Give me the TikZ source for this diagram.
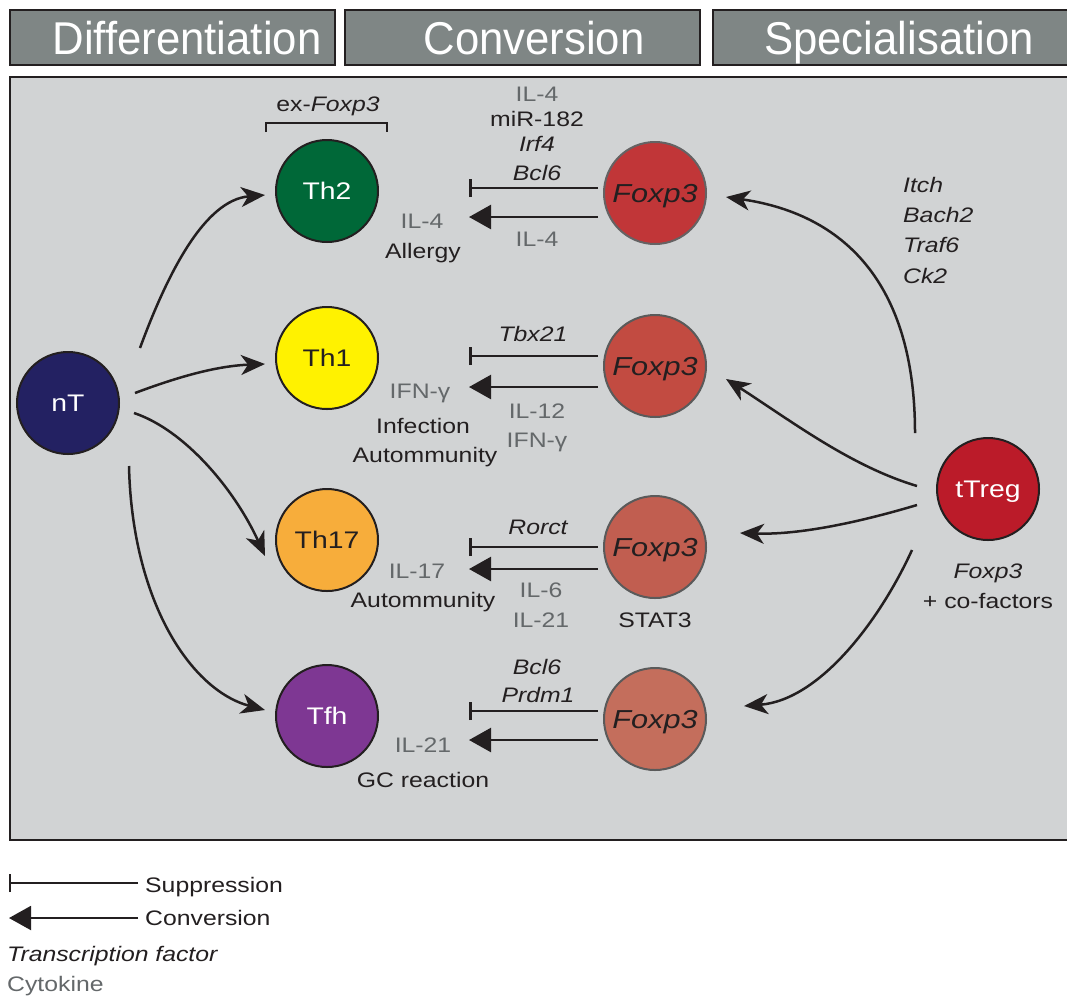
\documentclass[tikz,border=0pt]{standalone}
\usepackage{fontspec}
\setmainfont{Liberation Sans}[FakeStretch=1.18]
\newfontfamily\hdrfont{Liberation Sans}[FakeStretch=0.95]
\usetikzlibrary{arrows.meta}
\definecolor{panelc}{RGB}{209,211,212}
\definecolor{hdrc}{RGB}{127,134,133}
\definecolor{inkc}{RGB}{35,31,32}
\definecolor{cytc}{RGB}{100,104,106}
\definecolor{nTc}{RGB}{35,33,98}
\definecolor{thtwoc}{RGB}{0,104,56}
\definecolor{thonec}{RGB}{255,242,0}
\definecolor{thsevc}{RGB}{247,173,59}
\definecolor{tfhc}{RGB}{126,55,147}
\definecolor{fone}{RGB}{193,54,56}
\definecolor{ftwo}{RGB}{194,75,65}
\definecolor{fthree}{RGB}{193,94,80}
\definecolor{ffour}{RGB}{196,110,92}
\definecolor{tregc}{RGB}{187,27,41}
\definecolor{fborder}{RGB}{90,90,90}
\tikzset{
 cell/.style={circle, minimum size=102pt, inner sep=0pt, draw=inkc, line width=2pt, text depth=0pt, font=\fontsize{24}{28}\selectfont},
 fcell/.style={cell, draw=fborder, font=\fontsize{26}{30}\selectfont\itshape, text=inkc},
 lbl/.style={anchor=base, inner sep=0pt, text=inkc, font=\fontsize{21}{25}\selectfont},
 tf/.style={lbl, font=\fontsize{21}{25}\selectfont\itshape},
 cyt/.style={lbl, text=cytc},
 conn/.style={draw=inkc, line width=2.5pt},
 curve/.style={conn, -{Stealth[length=24pt,width=20pt,inset=7pt]}},
 supp/.style={conn, -{Bar[width=18pt]}},
 conv/.style={conn, -{Triangle[length=22pt,width=24pt]}},
 hdrbox/.style={draw=inkc, fill=hdrc, line width=2pt, minimum height=55pt, inner sep=0pt},
 hdrtext/.style={text=white, font=\hdrfont\fontsize{46}{50}\selectfont, text depth=0pt, inner sep=0pt},
}
\begin{document}
\begin{tikzpicture}[x=1pt,y=-1pt]
\useasboundingbox (0,0) rectangle (1067,997);
\fill[white] (0,0) rectangle (1067,997);
% headers
\node[hdrbox, minimum width=325pt] (hb1) at (172.5,37.5) {};
\node[hdrbox, minimum width=355pt] (hb2) at (522.5,37.5) {};
\node[hdrbox, minimum width=370pt] (hb3) at (898,37.5) {};
\node[hdrtext] (ht1) at (187,38) {Differentiation};
\node[hdrtext] (ht2) at (534,38) {Conversion};
\node[hdrtext] (ht3) at (899,38) {Specialisation};
% panel
\draw[fill=panelc, draw=inkc, line width=2pt] (10,77) rectangle (1085,840);
% cells
\node[cell, fill=nTc, text=white] (nT) at (68,403) {nT};
\node[cell, fill=thtwoc, text=white] (th2) at (327,191) {Th2};
\node[cell, fill=thonec, text=inkc] (th1) at (327,358) {Th1};
\node[cell, fill=thsevc, text=inkc] (th17) at (327,540) {Th17};
\node[cell, fill=tfhc, text=white] (tfh) at (327,716) {Tfh};
\node[fcell, fill=fone, draw=inkc!70] (f1) at (655,193) {Foxp3};
\node[fcell, fill=ftwo] (f2) at (655,366) {Foxp3};
\node[fcell, fill=fthree] (f3) at (655,547) {Foxp3};
\node[fcell, fill=ffour] (f4) at (655,719) {Foxp3};
\node[cell, fill=tregc, text=white] (treg) at (988,489) {tTreg};
% differentiation arrows
\coordinate (d1s) at (140,348); \coordinate (d1e) at (265,195);
\coordinate (d2s) at (135,393); \coordinate (d2e) at (265,364);
\coordinate (d3s) at (134,413); \coordinate (d3e) at (265,556);
\coordinate (d4s) at (129,466); \coordinate (d4e) at (265,710);
\draw[curve] (d1s) .. controls (168,272) and (205,200) .. (d1e);
\draw[curve] (d2s) .. controls (175,378) and (215,366) .. (d2e);
\draw[curve] (d3s) .. controls (185,430) and (235,490) .. (d3e);
\draw[curve] (d4s) .. controls (132,600) and (190,690) .. (d4e);
% specialisation arrows
\coordinate (t1s) at (915,433); \coordinate (t1e) at (726,197);
\coordinate (t2s) at (917,486); \coordinate (t2e) at (726,379);
\coordinate (t3s) at (917,505); \coordinate (t3e) at (740,533);
\coordinate (t4s) at (912,550); \coordinate (t4e) at (744,706);
\draw[curve] (t1s) .. controls (915,290) and (850,215) .. (t1e);
\draw[curve] (t2s) .. controls (850,466) and (790,420) .. (t2e);
\draw[curve] (t3s) .. controls (860,522) and (800,535) .. (t3e);
\draw[curve] (t4s) .. controls (880,620) and (820,700) .. (t4e);
% conversion / suppression
\coordinate (p1a) at (598,188); \coordinate (p1b) at (469,188);
\coordinate (c1a) at (598,217); \coordinate (c1b) at (469,217);
\coordinate (p2a) at (598,356); \coordinate (p2b) at (469,356);
\coordinate (c2a) at (598,387); \coordinate (c2b) at (469,387);
\coordinate (p3a) at (598,547); \coordinate (p3b) at (469,547);
\coordinate (c3a) at (598,569); \coordinate (c3b) at (469,569);
\coordinate (p4a) at (598,711); \coordinate (p4b) at (469,711);
\coordinate (c4a) at (598,740); \coordinate (c4b) at (469,740);
\draw[supp] (p1a) -- (p1b); \draw[conv] (c1a) -- (c1b);
\draw[supp] (p2a) -- (p2b); \draw[conv] (c2a) -- (c2b);
\draw[supp] (p3a) -- (p3b); \draw[conv] (c3a) -- (c3b);
\draw[supp] (p4a) -- (p4b); \draw[conv] (c4a) -- (c4b);
% ex-Foxp3 bracket
\node[lbl] (exf) at (328,111) {ex-\textit{Foxp3}};
\draw[inkc, line width=2pt] (266,132) -- (266,123) -- (387,123) -- (387,132);
% row Th2 labels
\node[cyt] (r1a) at (537,101) {IL-4};
\node[lbl] (r1b) at (537,126) {miR-182};
\node[tf] (r1c) at (537,151) {Irf4};
\node[tf] (r1d) at (537,180) {Bcl6};
\node[cyt] (r1e) at (537,246) {IL-4};
\node[cyt] (r1f) at (422,228) {IL-4};
\node[lbl] (r1g) at (423,258) {Allergy};
% row Th1 labels
\node[tf] (r2a) at (533,341) {Tbx21};
\node[cyt] (r2b) at (420,398) {IFN-γ};
\node[lbl] (r2c) at (423,433) {Infection};
\node[lbl] (r2d) at (425,462) {Autommunity};
\node[cyt] (r2e) at (537,418) {IL-12};
\node[cyt] (r2f) at (537,447) {IFN-γ};
% row Th17 labels
\node[tf] (r3a) at (538,534) {Rorct};
\node[cyt] (r3b) at (417,578) {IL-17};
\node[lbl] (r3c) at (423,607) {Autommunity};
\node[cyt] (r3d) at (541,597) {IL-6};
\node[cyt] (r3e) at (541,627) {IL-21};
\node[lbl] (r3f) at (655,627) {STAT3};
% row Tfh labels
\node[tf] (r4a) at (537,674) {Bcl6};
\node[tf] (r4b) at (538,702) {Prdm1};
\node[cyt] (r4c) at (423,752) {IL-21};
\node[lbl] (r4d) at (423,787) {GC reaction};
% tTreg labels
\node[tf, anchor=base west] (g1) at (903,192) {Itch};
\node[tf, anchor=base west] (g2) at (903,222) {Bach2};
\node[tf, anchor=base west] (g3) at (903,252) {Traf6};
\node[tf, anchor=base west] (g4) at (903,283) {Ck2};
\node[tf] (tr1) at (988,578) {Foxp3};
\node[lbl] (tr2) at (988,608) {+ co-factors};
% legend
\coordinate (ls1) at (138,883); \coordinate (ls2) at (9,883);
\coordinate (lc1) at (138,918); \coordinate (lc2) at (9,918);
\draw[supp, line width=2pt] (ls1) -- (ls2);
\draw[conv, line width=2pt] (lc1) -- (lc2);
\node[lbl, anchor=base west] (lg1) at (145,892) {Suppression};
\node[lbl, anchor=base west] (lg2) at (145,925) {Conversion};
\node[tf, anchor=base west] (lg3) at (7,961) {Transcription factor};
\node[cyt, anchor=base west] (lg4) at (7,991) {Cytokine};
\end{tikzpicture}
\end{document}
